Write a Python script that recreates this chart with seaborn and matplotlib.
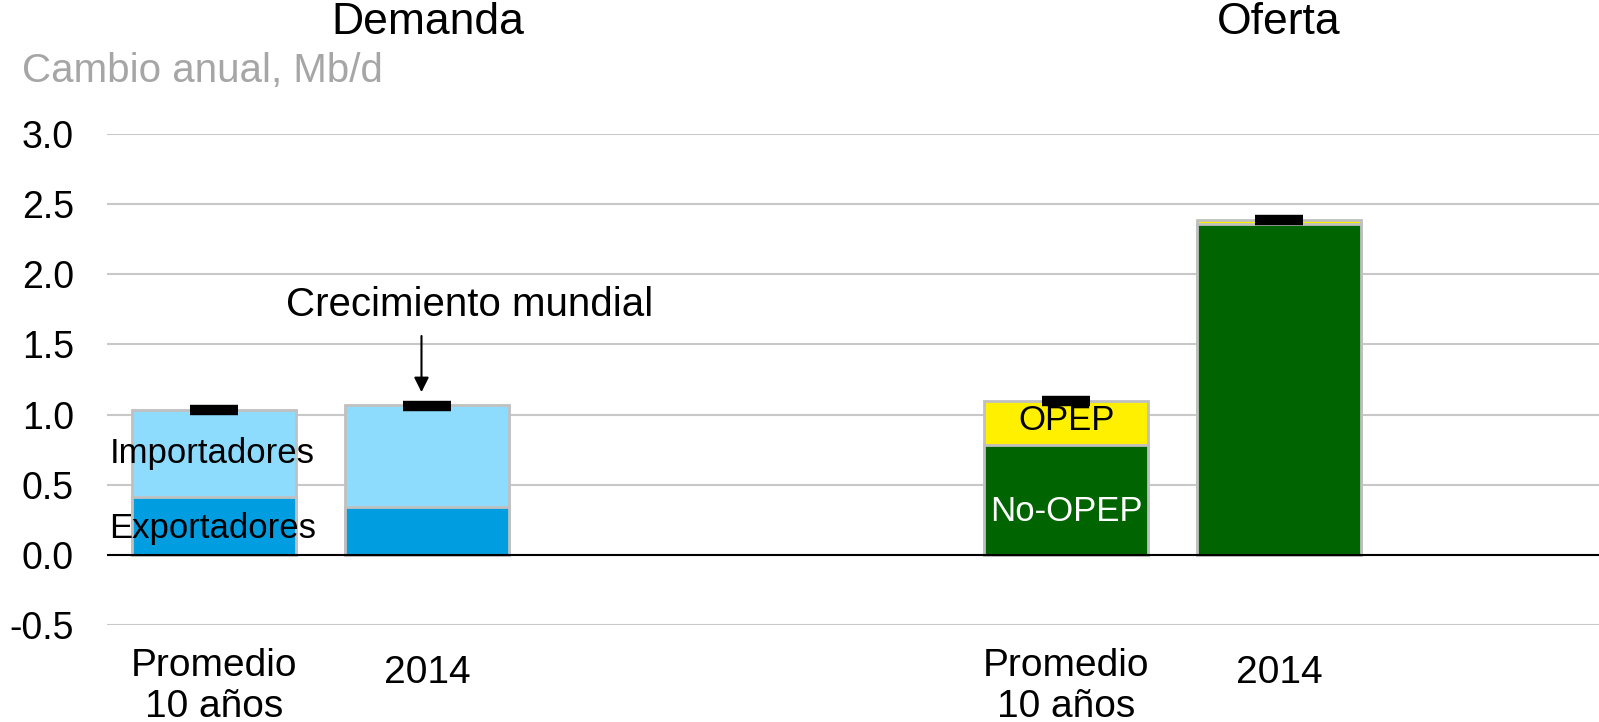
import pandas as pd
import matplotlib.pyplot as plt
import seaborn as sns

# Values (annual change, Mb/d)
positions = [0, 1, 4, 5]
exportadores = [0.41, 0.34]
importadores = [0.62, 0.73]
no_opep = [0.78, 2.355]
opep = [0.315, 0.035]
crecimiento_mundial = [1.03, 1.06, 1.095, 2.39]
xlabels = ["Promedio\n10 años", "2014", "Promedio\n10 años", "2014"]
yticks = [-0.5, 0.0, 0.5, 1.0, 1.5, 2.0, 2.5, 3.0]

sns.set_style("white")
plt.rcParams["font.family"] = ["Liberation Sans", "DejaVu Sans"]
plt.rcParams["text.color"] = "black"
plt.rcParams["ytick.color"] = "black"

top = [e + i for e, i in zip(exportadores, importadores)] + [n + o for n, o in zip(no_opep, opep)]
bottom = exportadores + no_opep
df = pd.DataFrame({
    "pos": positions,
    "top": top,
    "bottom": bottom,
    "total": crecimiento_mundial,
})
top_colors = ["#8ddcfe", "#8ddcfe", "#fff000", "#fff000"]
bottom_colors = ["#009ee0", "#009ee0", "#006400", "#006400"]

fig = plt.figure(figsize=(15.99, 7.22), dpi=100)
ax = fig.add_axes([0.067, 0.1343, 0.933, 0.6801])

# stacked bars: draw full height first, then the lower segment over it
sns.barplot(data=df, x="pos", y="top", hue="pos", palette=top_colors, native_scale=True,
            width=0.77, saturation=1, edgecolor="#c0c0c0", linewidth=2, legend=False, ax=ax)
sns.barplot(data=df, x="pos", y="bottom", hue="pos", palette=bottom_colors, native_scale=True,
            width=0.77, saturation=1, edgecolor="#c0c0c0", linewidth=2, legend=False, ax=ax)

# world growth markers
sns.scatterplot(data=df, x="pos", y="total", marker="_", s=34 ** 2, linewidth=7.5,
                color="black", ax=ax, zorder=5)

ax.set_xlim(-0.5, 6.5)
ax.set_ylim(-0.5, 3.0)
ax.set_yticks(yticks)
ax.set_yticklabels([f"{v:.1f}" for v in yticks], fontsize=27)
ax.tick_params(axis="y", length=0, pad=24)
ax.set_xticks([])
ax.set_xlabel("")
ax.set_ylabel("")
ax.grid(axis="y", color="#c8c8c8", linewidth=1.5)
ax.set_axisbelow(True)
ax.axhline(0, color="black", linewidth=1.5, zorder=3)
for s in ax.spines.values():
    s.set_visible(False)

# category labels under bars
for p, lab in zip(positions, xlabels):
    ax.text(p, -0.94 if "\n" in lab else -0.84, lab, ha="center", va="center",
            fontsize=28, linespacing=1.17)

# segment labels
ax.text(-0.49, 0.72, "Importadores", ha="left", va="center", fontsize=25)
ax.text(-0.49, 0.19, "Exportadores", ha="left", va="center", fontsize=25)
ax.text(4, 0.96, "OPEP", ha="center", va="center", fontsize=25)
ax.text(4, 0.31, "No-OPEP", ha="center", va="center", fontsize=25, color="white")

# annotation
ax.annotate("", xy=(0.975, 1.14), xytext=(0.975, 1.58),
            arrowprops=dict(arrowstyle="-|>", color="black", lw=1.5, mutation_scale=22))
ax.text(1.2, 1.78, "Crecimiento mundial", ha="center", va="center", fontsize=29)

# group titles and unit
fig.text(428 / 1599, 1 - 22 / 722, "Demanda", ha="center", va="center", fontsize=32)
fig.text(1279 / 1599, 1 - 22 / 722, "Oferta", ha="center", va="center", fontsize=32)
fig.text(22 / 1599, 1 - 71 / 722, "Cambio anual, Mb/d", ha="left", va="center",
         fontsize=29, color="#a6a6a6")

fig.savefig("out.png", dpi=100)
